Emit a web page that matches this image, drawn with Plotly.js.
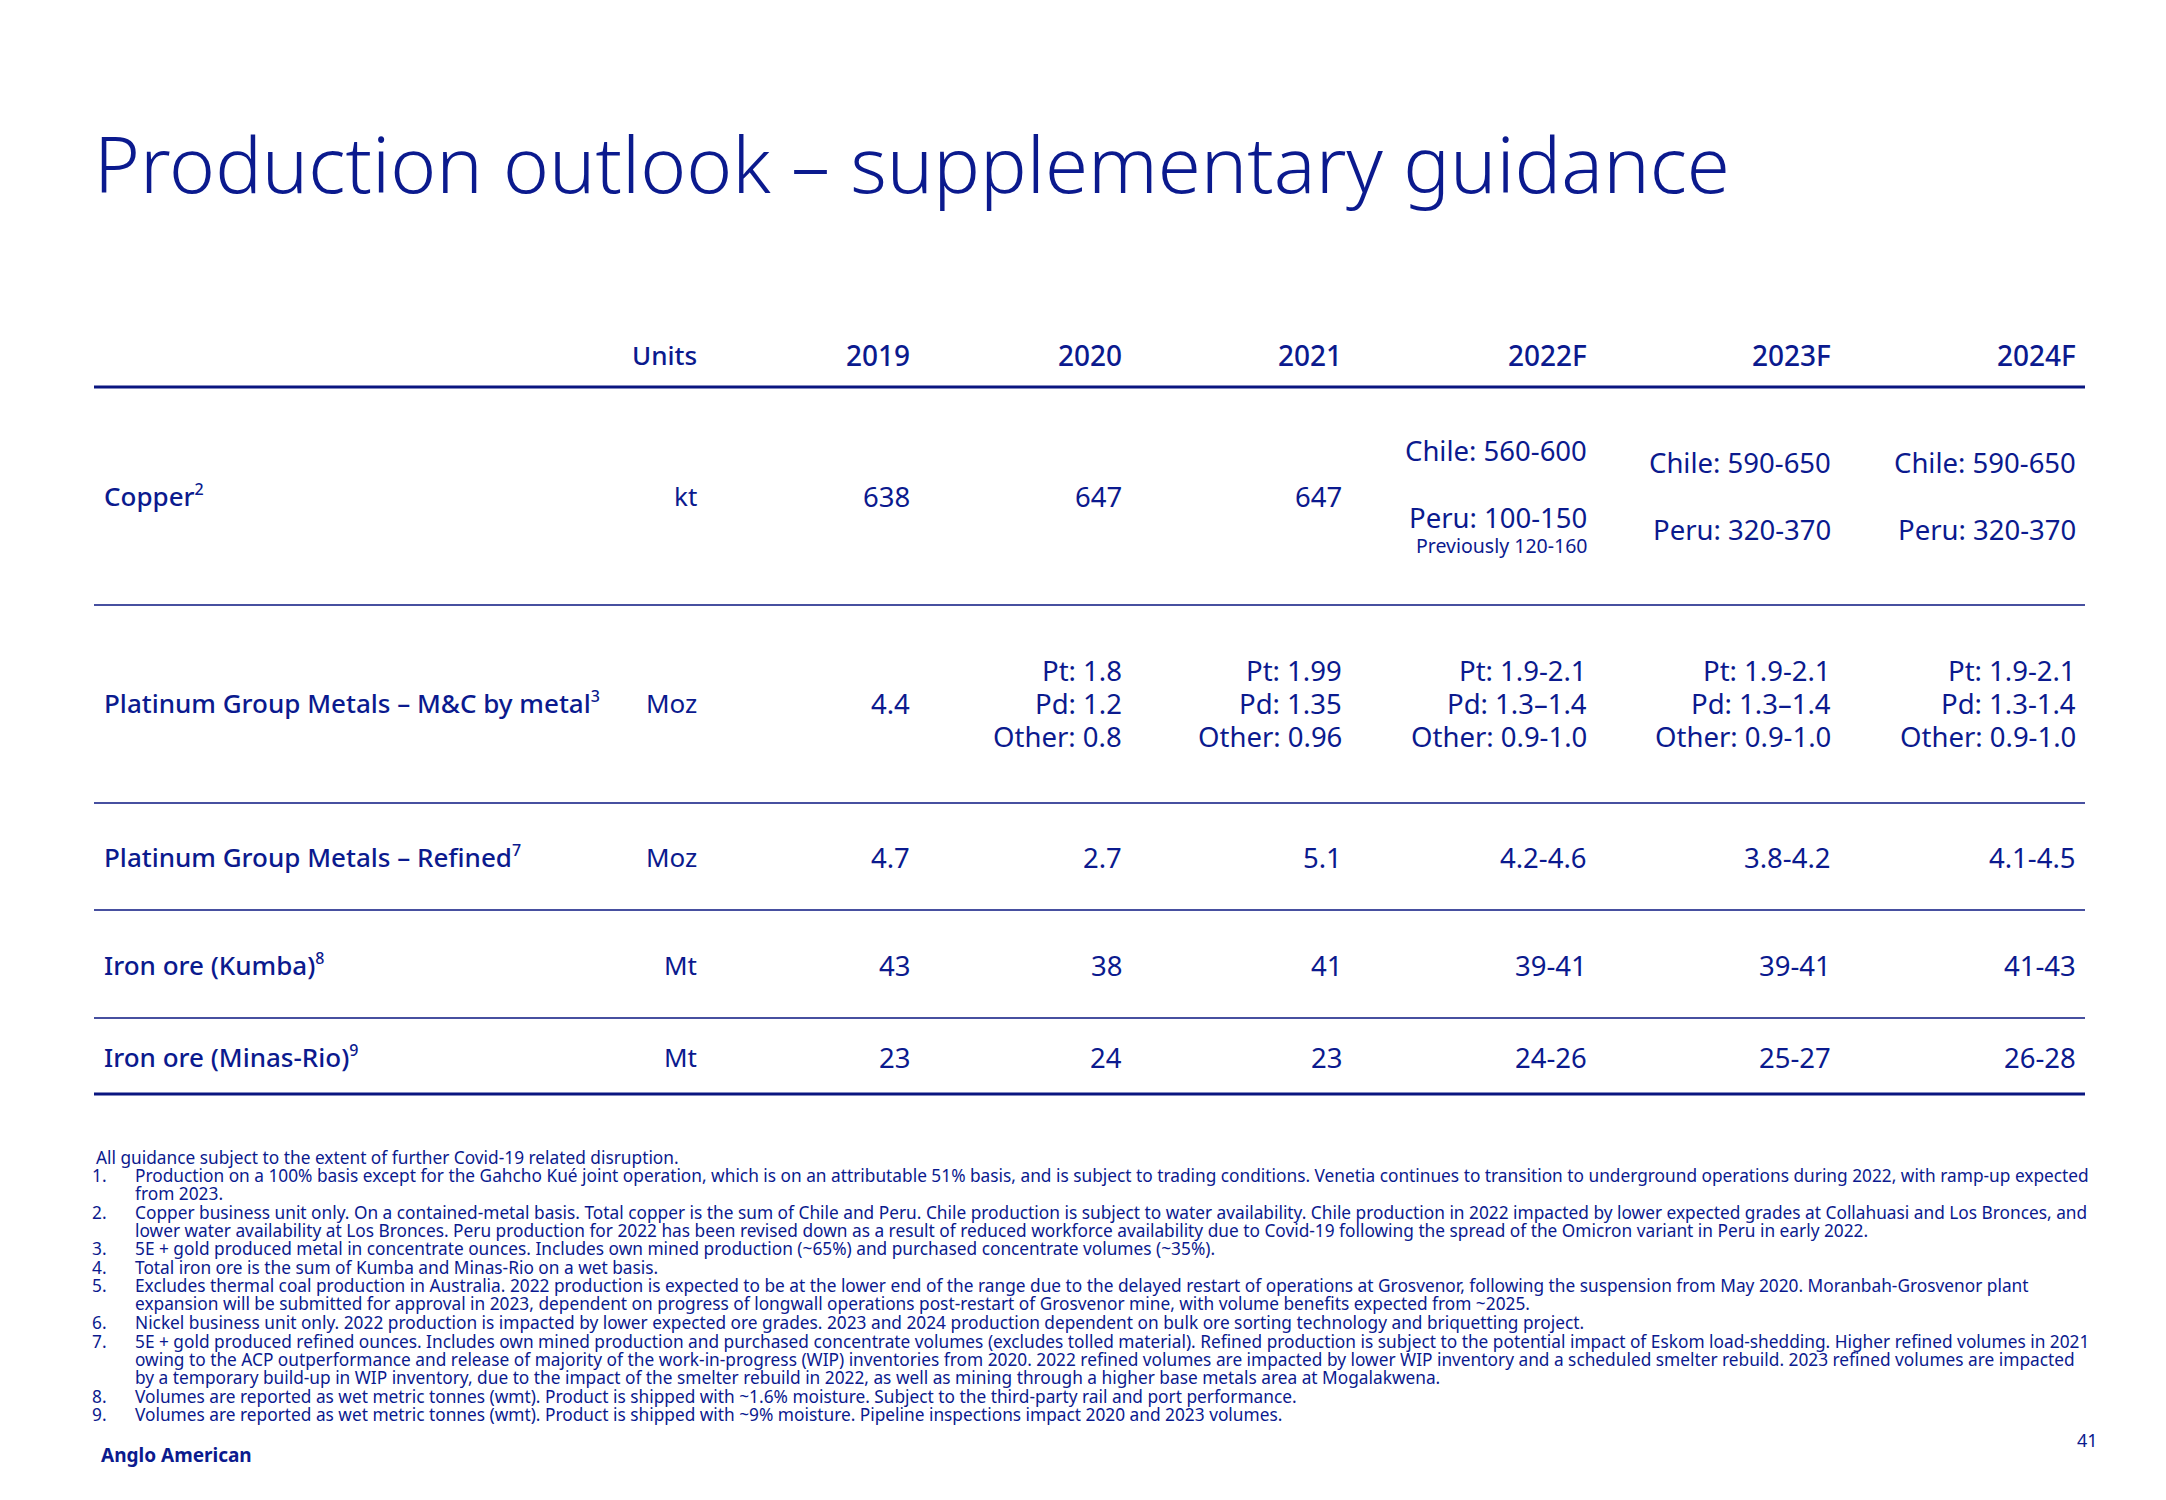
<!DOCTYPE html>
<html>
<head>
<meta charset="utf-8">
<script src="https://cdn.plot.ly/plotly-3.0.1.min.js"></script>
<style>html,body{margin:0;padding:0;background:#fff;}#chart{width:2166px;height:1500px;}</style>
</head>
<body>
<div id="chart"></div>
<script>
// ---------------- DATA ----------------
const title = 'Production outlook – supplementary guidance';
const unitsHeader = 'Units';
const years = ['2019', '2020', '2021', '2022F', '2023F', '2024F'];
const rowLabels = ['Copper', 'Platinum Group Metals – M&C by metal', 'Platinum Group Metals – Refined', 'Iron ore (Kumba)', 'Iron ore (Minas-Rio)'];
const rowNotes = ['2', '3', '7', '8', '9'];
const units = ['kt', 'Moz', 'Moz', 'Mt', 'Mt'];
const col2019 = [['638'], ['4.4'], ['4.7'], ['43'], ['23']];
const col2020 = [['647'], ['Pt: 1.8', 'Pd: 1.2', 'Other: 0.8'], ['2.7'], ['38'], ['24']];
const col2021 = [['647'], ['Pt: 1.99', 'Pd: 1.35', 'Other: 0.96'], ['5.1'], ['41'], ['23']];
const col2022F = [['Chile: 560-600', 'Peru: 100-150'], ['Pt: 1.9-2.1', 'Pd: 1.3–1.4', 'Other: 0.9-1.0'], ['4.2-4.6'], ['39-41'], ['24-26']];
const col2023F = [['Chile: 590-650', 'Peru: 320-370'], ['Pt: 1.9-2.1', 'Pd: 1.3–1.4', 'Other: 0.9-1.0'], ['3.8-4.2'], ['39-41'], ['25-27']];
const col2024F = [['Chile: 590-650', 'Peru: 320-370'], ['Pt: 1.9-2.1', 'Pd: 1.3-1.4', 'Other: 0.9-1.0'], ['4.1-4.5'], ['41-43'], ['26-28']];
const copper2022Note = 'Previously 120-160';
const footIntro = 'All guidance subject to the extent of further Covid-19 related disruption.';
const footNums = ['1.', '2.', '3.', '4.', '5.', '6.', '7.', '8.', '9.'];
const footLines = [
  ['Production on a 100% basis except for the Gahcho Kué joint operation, which is on an attributable 51% basis, and is subject to trading conditions. Venetia continues to transition to underground operations during 2022, with ramp-up expected', 'from 2023.'],
  ['Copper business unit only. On a contained-metal basis. Total copper is the sum of Chile and Peru. Chile production is subject to water availability. Chile production in 2022 impacted by lower expected grades at Collahuasi and Los Bronces, and', 'lower water availability at Los Bronces. Peru production for 2022 has been revised down as a result of reduced workforce availability due to Covid-19 following the spread of the Omicron variant in Peru in early 2022.'],
  ['5E + gold produced metal in concentrate ounces. Includes own mined production (~65%) and purchased concentrate volumes (~35%).'],
  ['Total iron ore is the sum of Kumba and Minas-Rio on a wet basis.'],
  ['Excludes thermal coal production in Australia. 2022 production is expected to be at the lower end of the range due to the delayed restart of operations at Grosvenor, following the suspension from May 2020. Moranbah-Grosvenor plant', 'expansion will be submitted for approval in 2023, dependent on progress of longwall operations post-restart of Grosvenor mine, with volume benefits expected from ~2025.'],
  ['Nickel business unit only. 2022 production is impacted by lower expected ore grades. 2023 and 2024 production dependent on bulk ore sorting technology and briquetting project.'],
  ['5E + gold produced refined ounces. Includes own mined production and purchased concentrate volumes (excludes tolled material). Refined production is subject to the potential impact of Eskom load-shedding. Higher refined volumes in 2021', 'owing to the ACP outperformance and release of majority of the work-in-progress (WIP) inventories from 2020. 2022 refined volumes are impacted by lower WIP inventory and a scheduled smelter rebuild. 2023 refined volumes are impacted', 'by a temporary build-up in WIP inventory, due to the impact of the smelter rebuild in 2022, as well as mining through a higher base metals area at Mogalakwena.'],
  ['Volumes are reported as wet metric tonnes (wmt). Product is shipped with ~1.6% moisture. Subject to the third-party rail and port performance.'],
  ['Volumes are reported as wet metric tonnes (wmt). Product is shipped with ~9% moisture. Pipeline inspections impact 2020 and 2023 volumes.']
];
const brand = 'Anglo American';
const pageNum = '41';

// ---------------- LAYOUT / STYLE ----------------
const W = 2166, H = 1500;
const C = '#0b1a8e';
const LINEC = '#0a1680';
const FONT = 'Noto Sans, sans-serif';
const labelX = 102;
const unitsRight = 699;
const yearRight = [912, 1124, 1344, 1589, 1833, 2078];
const headerY = 355;
const rowY = [496, 703, 857, 965, 1057];
const rowSpacing = [67, 33, 0, 0, 0];
const lineLeft = 94, lineRight = 2085;
const sepY = [605, 803, 910, 1018];
const headerLineY = 387, bottomLineY = 1094;
const footY0 = 1157, footNumX = 90, footTextX = 133;
const footItemY = [1175, 1212, 1248, 1267, 1285, 1322, 1341, 1396, 1414];
const footLineStep = 18.3;
const sizeTitle = 78, sizeLabel = 26, sizeYear = 28, sizeValue = 27.5, sizeNote = 19.5, sizeFoot = 17.3;

const cols = [col2019, col2020, col2021, col2022F, col2023F, col2024F];
const ann = [];
function txt(x, y, s, size, anchor, opts) {
  opts = opts || {};
  ann.push({x: x, y: y, xref: 'x', yref: 'y', text: s, showarrow: false,
    xanchor: anchor, yanchor: 'middle', align: anchor === 'right' ? 'right' : 'left',
    font: {family: opts.family || FONT, size: size, color: C, weight: opts.weight || 400}});
}

// title
txt(92, 163, title, sizeTitle, 'left', {weight: 300});
// header
txt(unitsRight, headerY, unitsHeader, sizeLabel, 'right', {weight: 500});
years.forEach((yv, i) => txt(yearRight[i], headerY, yv, sizeYear, 'right', {weight: 500}));
// rows
rowLabels.forEach((lab, r) => {
  txt(labelX, rowY[r], lab + '<sup><span style="font-size:16px">' + rowNotes[r] + '</span></sup>', sizeLabel, 'left', {weight: 500});
  txt(unitsRight, rowY[r], units[r], sizeLabel, 'right');
  cols.forEach((col, c) => {
    const lines = col[r];
    const n = lines.length;
    let shift = 0;
    if (r === 0 && c === 3) shift = -12;
    lines.forEach((s, i) => {
      const y = rowY[r] + shift + (i - (n - 1) / 2) * rowSpacing[r];
      txt(yearRight[c], y, s, sizeValue, 'right');
    });
    if (r === 0 && c === 3) {
      txt(yearRight[c], rowY[r] + shift + rowSpacing[r] / 2 + 28, copper2022Note, sizeNote, 'right');
    }
  });
});
// footnotes
txt(94, footY0, footIntro, sizeFoot, 'left');
footLines.forEach((lines, k) => {
  txt(footNumX, footItemY[k], footNums[k], sizeFoot, 'left');
  lines.forEach((s, i) => txt(footTextX, footItemY[k] + i * footLineStep, s, sizeFoot, 'left'));
});
txt(99, 1455, brand, 19, 'left', {weight: 700});
txt(2100, 1440, pageNum, 18, 'right');

// lines
const shapes = [];
function hline(y, w) {
  shapes.push({type: 'line', xref: 'x', yref: 'y', x0: lineLeft, x1: lineRight, y0: y, y1: y,
    line: {color: LINEC, width: w}});
}
hline(headerLineY, 3);
sepY.forEach(y => hline(y, 1.5));
hline(bottomLineY, 3);

const layout = {
  width: W, height: H,
  margin: {l: 0, r: 0, t: 0, b: 0, pad: 0},
  paper_bgcolor: '#ffffff', plot_bgcolor: '#ffffff',
  showlegend: false,
  xaxis: {range: [0, W], visible: false, fixedrange: true},
  yaxis: {range: [H, 0], visible: false, fixedrange: true},
  annotations: ann,
  shapes: shapes
};
Plotly.newPlot('chart', [{x: [], y: [], type: 'scatter', mode: 'markers'}], layout, {staticPlot: true, displayModeBar: false});
</script>
</body>
</html>
